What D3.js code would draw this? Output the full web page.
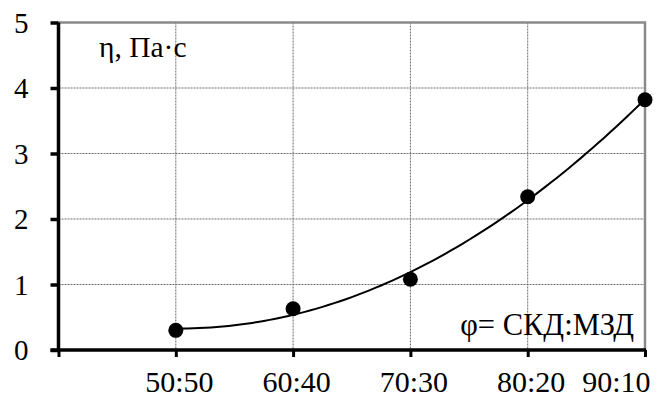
<!DOCTYPE html>
<html>
<head>
<meta charset="utf-8">
<script src="https://cdn.jsdelivr.net/npm/d3@7"></script>
<style>
  html, body { margin: 0; padding: 0; background: #fff; }
  svg text { font-family: "Liberation Serif", "Times New Roman", "DejaVu Serif", serif; }
</style>
</head>
<body>
<svg id="chart" width="670" height="398"></svg>
<script>
// ---- data ----
const categories = ["50:50", "60:40", "70:30", "80:20", "90:10"];
const viscosity = [0.30, 0.63, 1.08, 2.34, 3.82];
const yTicks = [0, 1, 2, 3, 4, 5];
const yLabel = "η, Па·с";
const xLabel = "φ= СКД:МЗД";

// ---- layout ----
const svg = d3.select("#chart");
const mLeft = 58.5, mRight = 645, mTop = 22.5, mBottom = 350;
const xPos = categories.map((c, i) => i + 1);

const x = d3.scaleLinear().domain([0, categories.length]).range([mLeft, mRight]);
const y = d3.scaleLinear().domain([0, 5]).range([mBottom, mTop]);

// grid
const grid = svg.append("g");
grid.selectAll("line.h").data(yTicks.filter(t => t > 0 && t < 5)).join("line")
  .attr("x1", mLeft).attr("x2", mRight)
  .attr("y1", d => y(d)).attr("y2", d => y(d))
  .attr("stroke", "#6e6e6e").attr("stroke-width", 1).attr("stroke-dasharray", "2,1");
grid.selectAll("line.v").data(xPos.slice(0, -1)).join("line")
  .attr("x1", d => x(d)).attr("x2", d => x(d))
  .attr("y1", mTop).attr("y2", mBottom)
  .attr("stroke", "#6e6e6e").attr("stroke-width", 1).attr("stroke-dasharray", "2,1");

// top/right border (grey)
svg.append("path")
  .attr("d", `M${mLeft},${mTop}H${mRight}V${mBottom}`)
  .attr("fill", "none").attr("stroke", "#8a8a8a").attr("stroke-width", 2.5);

// quadratic trend line computed from data (least squares)
function quadFit(xs, ys) {
  const n = xs.length;
  let S = [0,0,0,0,0], T = [0,0,0];
  for (let i = 0; i < n; i++) {
    for (let k = 0; k <= 4; k++) S[k] += Math.pow(xs[i], k);
    for (let k = 0; k <= 2; k++) T[k] += ys[i] * Math.pow(xs[i], k);
  }
  const A = [[S[0],S[1],S[2],T[0]],[S[1],S[2],S[3],T[1]],[S[2],S[3],S[4],T[2]]];
  for (let i = 0; i < 3; i++) {
    for (let j = i + 1; j < 3; j++) {
      const f = A[j][i] / A[i][i];
      for (let k = i; k < 4; k++) A[j][k] -= f * A[i][k];
    }
  }
  const c = [0,0,0];
  for (let i = 2; i >= 0; i--) {
    let s = A[i][3];
    for (let k = i + 1; k < 3; k++) s -= A[i][k] * c[k];
    c[i] = s / A[i][i];
  }
  return t => c[0] + c[1] * t + c[2] * t * t;
}
const fit = quadFit(xPos, viscosity);
const trend = d3.range(xPos[0], xPos[xPos.length - 1] + 0.0001, 0.05).map(t => [t, fit(t)]);
svg.append("path")
  .datum(trend)
  .attr("d", d3.line().x(d => x(d[0])).y(d => y(d[1])).curve(d3.curveBasis))
  .attr("fill", "none").attr("stroke", "#000").attr("stroke-width", 2);

// points
svg.selectAll("circle.pt").data(viscosity).join("circle")
  .attr("cx", (d, i) => x(xPos[i])).attr("cy", d => y(d))
  .attr("r", 7.5).attr("fill", "#000");

// axes
const yAxis = d3.axisLeft(y).tickValues(yTicks).tickSize(8).tickFormat(d3.format("d"));
const gy = svg.append("g").attr("transform", `translate(${mLeft},0)`).call(yAxis);
gy.attr("font-family", null);
gy.select(".domain").attr("stroke", "#000").attr("stroke-width", 3.5)
  .attr("d", `M0,${mTop}V${mBottom + 1.5}`);
gy.selectAll(".tick line").attr("stroke", "#000").attr("stroke-width", 3.5);
gy.selectAll(".tick text").attr("x", -30).attr("dy", "0.34em")
  .attr("font-size", 29).attr("fill", "#000");

const xAxis = d3.axisBottom(x).tickValues([0].concat(xPos)).tickSize(7)
  .tickFormat(d => d === 0 ? "" : categories[d - 1]);
const gx = svg.append("g").attr("transform", `translate(0,${mBottom})`).call(xAxis);
gx.attr("font-family", null);
gx.select(".domain").attr("stroke", "#000").attr("stroke-width", 3.5)
  .attr("d", `M${mLeft - 8},0H${mRight + 1}`);
gx.selectAll(".tick line").attr("stroke", "#000").attr("stroke-width", 3);
gx.selectAll(".tick text").attr("y", 42).attr("dy", 0)
  .attr("font-size", 30).attr("fill", "#000")
  .attr("text-anchor", (d, i, n) => i === n.length - 1 ? "end" : "middle")
  .attr("dx", (d, i, n) => i === n.length - 1 ? 5 : 3);

// annotations
svg.append("text").attr("x", 99).attr("y", 57)
  .attr("font-size", 29.5).attr("fill", "#000").text(yLabel);
svg.append("text").attr("x", 634).attr("y", 335).attr("text-anchor", "end")
  .attr("font-size", 30.5).attr("fill", "#000").text(xLabel);
</script>
</body>
</html>
